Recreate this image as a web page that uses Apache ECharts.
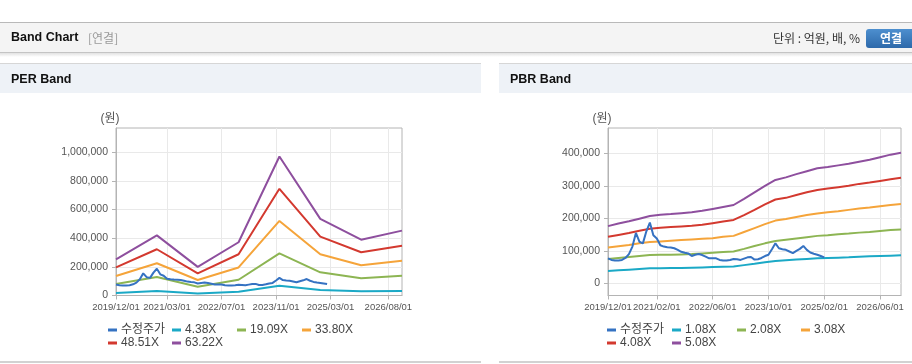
<!DOCTYPE html>
<html><head><meta charset="utf-8">
<script src="https://cdn.jsdelivr.net/npm/echarts@6/dist/echarts.min.js"></script>
<style>html,body{margin:0;padding:0;background:#fff;}#c{width:912px;height:364px;}</style>
</head><body><div id="c"></div>
<script>
// ---- tick labels ----
const perTickLabels = ['2019/12/01','2021/03/01','2022/07/01','2023/11/01','2025/03/01','2026/08/01'];
const pbrTickLabels = ['2019/12/01','2021/02/01','2022/06/01','2023/10/01','2025/02/01','2026/06/01'];
const perYTicks = [0, 200000, 400000, 600000, 800000, 1000000];
const pbrYTicks = [0, 100000, 200000, 300000, 400000];

// ---- series names ----
const perNames = ['수정주가', '4.38X', '19.09X', '33.80X', '48.51X', '63.22X'];
const pbrNames = ['수정주가', '1.08X', '2.08X', '3.08X', '4.08X', '5.08X'];

// ---- adjusted price (monthly from 2019/12/01) ----
const price = [77000, 72000, 70000, 70000, 72000, 78000, 90000, 113000, 155000, 128000,
  123000, 160000, 187000, 148000, 138000, 117000, 113000, 111000, 110000, 108000,
  103000, 97000, 94000, 92000, 84000, 88000, 90000, 87000, 82000, 77000,
  77000, 77000, 72000, 70000, 70000, 72000, 75000, 74000, 72000, 76000,
  80000, 81000, 73000, 74000, 78000, 84000, 88000, 105000, 123000, 108000,
  105000, 103000, 98000, 93000, 100000, 106000, 115000, 103000, 95000, 91000,
  88000, 84000, 80000];

// ---- PER band points ----
const perPointDates = ['2019/12/01','2020/12/01','2021/12/01','2022/12/01','2023/12/01','2024/12/01','2025/12/01','2026/12/01'];
const per438  = [18000, 31000, 14000, 26000, 68000, 39000, 29000, 31000];
const per1909 = [80000, 129000, 61000, 110000, 294000, 162000, 121000, 138000];
const per3380 = [136000, 225000, 108000, 196000, 521000, 288000, 211000, 243000];
const per4851 = [197000, 323000, 154000, 288000, 745000, 411000, 302000, 348000];
const per6322 = [253000, 420000, 200000, 372000, 971000, 535000, 390000, 453000];

// ---- PBR band points ----
const pbrPointDates = ['2019/12/01','2020/03/01','2020/06/01','2020/09/01','2020/12/01','2021/03/01','2021/06/01','2021/09/01',
  '2021/12/01','2022/03/01','2022/06/01','2022/09/01','2022/12/01','2023/03/01','2023/06/01','2023/09/01',
  '2023/12/01','2024/03/01','2024/06/01','2024/09/01','2024/12/01','2025/03/01','2025/06/01','2025/09/01',
  '2025/12/01','2026/03/01','2026/06/01','2026/09/01','2026/12/01'];
const pbr108 = [38000,40000,42000,44000,46000,46000,47000,47000,48000,49000,50000,51000,52000,56000,60000,65000,69000,71000,73000,75000,77000,78000,79000,80000,82000,83000,84000,85000,86000];
const pbr208 = [75000,78000,81000,84000,87000,88000,88000,89000,90000,92000,94000,96000,98000,106000,115000,123000,130000,134000,138000,142000,146000,148000,151000,153000,156000,158000,161000,164000,166000];
const pbr308 = [110000,114000,118000,123000,127000,129000,131000,133000,135000,137000,139000,143000,146000,158000,170000,182000,193000,198000,204000,210000,215000,219000,222000,226000,230000,233000,237000,241000,244000];
const pbr408 = [143000,149000,155000,162000,168000,171000,173000,175000,177000,180000,185000,190000,195000,210000,226000,243000,258000,263000,272000,280000,287000,292000,296000,300000,306000,310000,315000,320000,325000];
const pbr508 = [176000,184000,191000,199000,207000,211000,213000,216000,219000,223000,229000,235000,241000,260000,280000,300000,318000,326000,336000,345000,354000,358000,363000,368000,374000,380000,388000,396000,402000];

// ---- monthly category axis 2019/12 .. 2026/12 ----
const months = [];
for (let y = 2019, m = 12; y < 2027; ) {
  months.push(y + '/' + String(m).padStart(2, '0') + '/01');
  m++; if (m > 12) { m = 1; y++; }
}

const colors = ['#3572c2', '#1ba9c6', '#8db553', '#f5a43a', '#d3392f', '#8e4f9e'];
const numFont = "'Liberation Sans','Noto Sans CJK KR',sans-serif";
const krFont = "'Liberation Sans','Noto Sans CJK KR',sans-serif";
const pairs = (dates, vals) => dates.map((d, i) => [d, vals[i]]);

function xAxisFor(gi, ticks) {
  const f = (i, v) => ticks.indexOf(v) >= 0;
  return {
    type: 'category', gridIndex: gi, data: months, boundaryGap: false,
    axisLine: { onZero: false, lineStyle: { color: '#b4b4b4', width: 1 } },
    axisTick: { show: true, interval: f, length: 4, lineStyle: { color: '#b4b4b4' } },
    axisLabel: { interval: f, showMinLabel: true, showMaxLabel: true, color: '#555', fontSize: 9.5, fontFamily: numFont, margin: 7, hideOverlap: false },
    splitLine: { show: true, interval: f, lineStyle: { color: '#e9e9e9' } }
  };
}
function yAxisFor(gi, min, max, ticks) {
  return {
    type: 'value', gridIndex: gi, min: min, max: max,
    name: '(원)', nameLocation: 'end', nameGap: 3,
    nameTextStyle: { color: '#555', fontSize: 12, fontFamily: krFont, align: 'center', padding: [0, 12, 0, 0] },
    axisLine: { show: true, lineStyle: { color: '#b4b4b4' } },
    axisTick: { show: true, length: 4, customValues: ticks, lineStyle: { color: '#b4b4b4' } },
    axisLabel: { customValues: ticks, color: '#555', fontSize: 10.5, fontFamily: numFont, margin: 8,
      formatter: v => Number(v).toLocaleString('en-US') },
    splitLine: { show: true, lineStyle: { color: '#e9e9e9' } }
  };
}
function line(name, data, ci, xi, yi, z) {
  return { type: 'line', name: name, data: data, xAxisIndex: xi, yAxisIndex: yi, showSymbol: false,
    symbol: 'none', lineStyle: { width: 2, color: colors[ci] }, itemStyle: { color: colors[ci] }, z: z || 2 };
}

const series = [
  line(perNames[1], pairs(perPointDates, per438), 1, 0, 0),
  line(perNames[2], pairs(perPointDates, per1909), 2, 0, 0),
  line(perNames[3], pairs(perPointDates, per3380), 3, 0, 0),
  line(perNames[4], pairs(perPointDates, per4851), 4, 0, 0),
  line(perNames[5], pairs(perPointDates, per6322), 5, 0, 0),
  line(perNames[0], price, 0, 0, 0, 3),
  line(pbrNames[1], pairs(pbrPointDates, pbr108), 1, 1, 1),
  line(pbrNames[2], pairs(pbrPointDates, pbr208), 2, 1, 1),
  line(pbrNames[3], pairs(pbrPointDates, pbr308), 3, 1, 1),
  line(pbrNames[4], pairs(pbrPointDates, pbr408), 4, 1, 1),
  line(pbrNames[5], pairs(pbrPointDates, pbr508), 5, 1, 1),
  line(pbrNames[0], price, 0, 1, 1, 3)
];

// legends laid out in fixed columns
const legends = [];
function addLegends(names, cols) {
  names.forEach((n, i) => {
    const row = Math.floor(i / 4), col = i % 4;
    legends.push({
      data: [n], left: cols[col], top: [323, 336][row], padding: 0, itemGap: 0,
      itemWidth: 9, itemHeight: 3, icon: 'rect', selectedMode: false,
      textStyle: { color: '#444', fontSize: 12, fontFamily: numFont, lineHeight: 14, padding: [0, 0, 0, -1] }
    });
  });
}
addLegends(perNames, [108, 172, 237, 302]);
addLegends(pbrNames, [607, 672, 737, 801]);

const graphic = [
  { type: 'rect', shape: { x: 0, y: 22, width: 912, height: 1 }, style: { fill: '#b9b9b9' } },
  { type: 'rect', shape: { x: 0, y: 23, width: 912, height: 29 }, style: { fill: '#f4f4f4' } },
  { type: 'rect', shape: { x: 0, y: 52, width: 912, height: 1 }, style: { fill: '#c4c4c4' } },
  { type: 'rect', shape: { x: 0, y: 53, width: 912, height: 4 }, style: { fill: new echarts.graphic.LinearGradient(0, 0, 0, 1, [{ offset: 0, color: '#e2e2e2' }, { offset: 1, color: '#ffffff' }]) } },
  { type: 'text', x: 11, y: 38, style: { text: 'Band Chart', fill: '#111', font: "bold 12.5px 'Liberation Sans',sans-serif", verticalAlign: 'middle' } },
  { type: 'text', x: 88, y: 38, style: { text: '[연결]', fill: '#999', font: "12px 'Noto Sans CJK KR',sans-serif", verticalAlign: 'middle' } },
  { type: 'text', x: 860, y: 38, style: { text: '단위 : 억원, 배, %', fill: '#333', font: "12px 'Noto Sans CJK KR',sans-serif", align: 'right', verticalAlign: 'middle' } },
  { type: 'rect', shape: { x: 866, y: 29, width: 50, height: 19, r: 3 }, style: { fill: new echarts.graphic.LinearGradient(0, 0, 0, 1, [{ offset: 0, color: '#4d8fcf' }, { offset: 1, color: '#2d69aa' }]) } },
  { type: 'text', x: 891, y: 38.5, style: { text: '연결', fill: '#fff', font: "bold 12px 'Noto Sans CJK KR',sans-serif", align: 'center', verticalAlign: 'middle' } },
  // panels
  { type: 'rect', shape: { x: 0, y: 63, width: 481, height: 1 }, style: { fill: '#d6d6d6' } },
  { type: 'rect', shape: { x: 0, y: 64, width: 481, height: 29 }, style: { fill: '#eef2f7' } },
  { type: 'text', x: 11, y: 80, style: { text: 'PER Band', fill: '#111', font: "bold 12.5px 'Liberation Sans',sans-serif", verticalAlign: 'middle' } },
  { type: 'rect', shape: { x: 499, y: 63, width: 413, height: 1 }, style: { fill: '#d6d6d6' } },
  { type: 'rect', shape: { x: 499, y: 64, width: 413, height: 29 }, style: { fill: '#eef2f7' } },
  { type: 'text', x: 510, y: 80, style: { text: 'PBR Band', fill: '#111', font: "bold 12.5px 'Liberation Sans',sans-serif", verticalAlign: 'middle' } },
  { type: 'rect', shape: { x: 0, y: 361, width: 481, height: 2 }, style: { fill: '#d2d2d2' } },
  { type: 'rect', shape: { x: 499, y: 361, width: 413, height: 2 }, style: { fill: '#d2d2d2' } }
];

const chart = echarts.init(document.getElementById('c'), null, { renderer: 'canvas' });
chart.setOption({
  animation: false,
  backgroundColor: '#fff',
  grid: [
    { left: 116, top: 128, width: 286, height: 167.5, show: true, borderColor: '#b4b4b4', borderWidth: 1, containLabel: false, outerBoundsMode: 'none' },
    { left: 608, top: 128, width: 293, height: 167.5, show: true, borderColor: '#b4b4b4', borderWidth: 1, containLabel: false, outerBoundsMode: 'none' }
  ],
  xAxis: [xAxisFor(0, perTickLabels), xAxisFor(1, pbrTickLabels)],
  yAxis: [yAxisFor(0, 0, 1170000, perYTicks), yAxisFor(1, -37500, 478000, pbrYTicks)],
  legend: legends,
  graphic: graphic,
  series: series
});
</script></body></html>
